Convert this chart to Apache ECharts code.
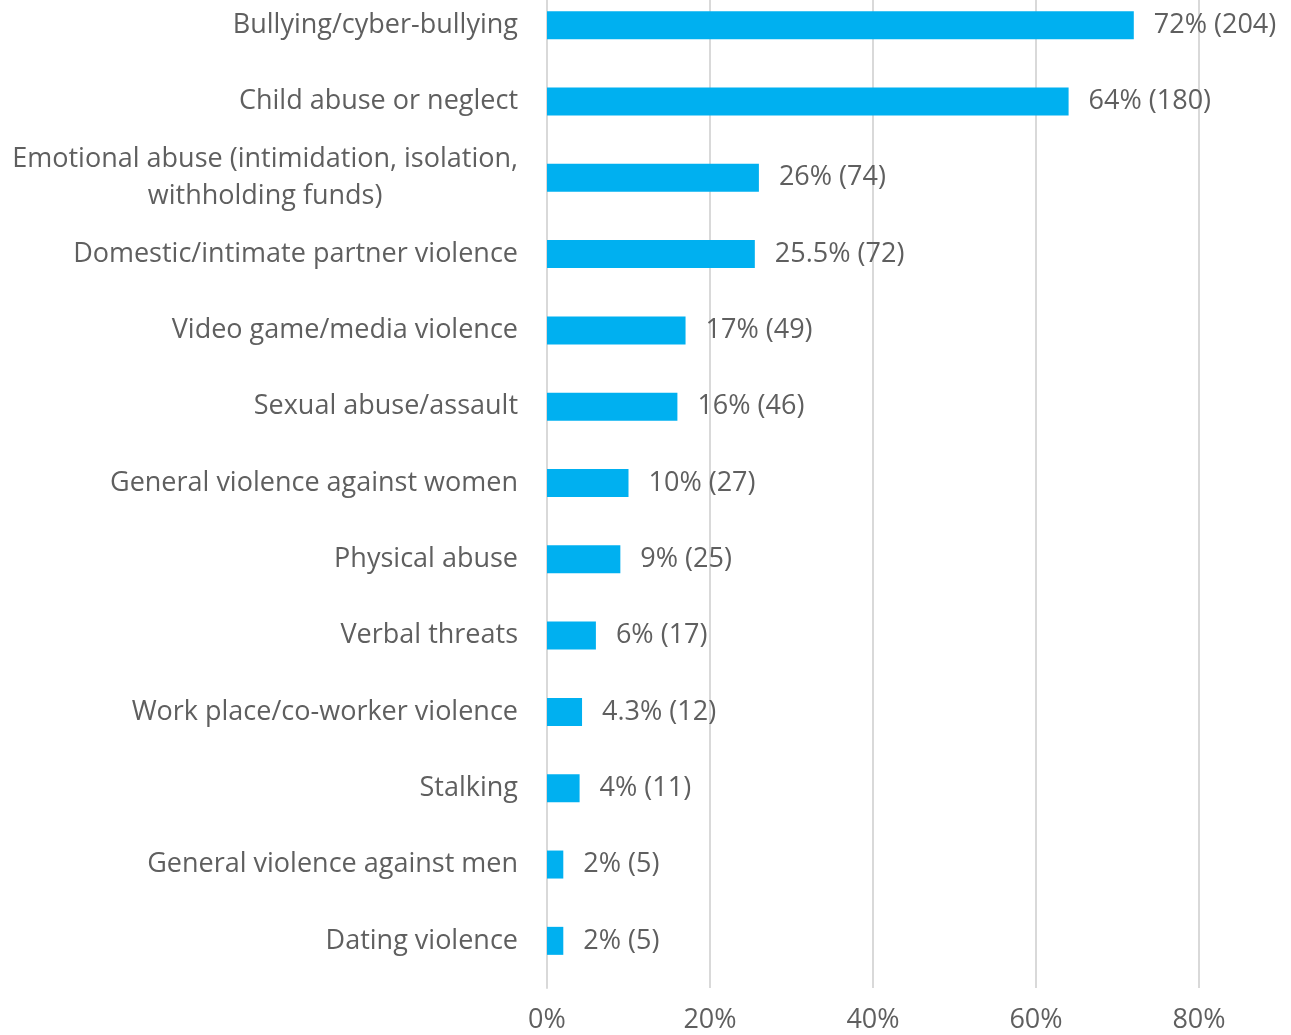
<!DOCTYPE html>
<html>
<head>
<meta charset="utf-8">
<script src="https://cdn.jsdelivr.net/npm/echarts@6/dist/echarts.min.js"></script>
<style>
  html, body { margin: 0; padding: 0; background: #fff; }
  #chart { width: 1291px; height: 1035px; }
</style>
</head>
<body>
<div id="chart"></div>
<script>
// Reported forms of violence, share of respondents with counts
const categories = [
  'Bullying/cyber-bullying',
  'Child abuse or neglect',
  'Emotional abuse (intimidation, isolation,\nwithholding funds)',
  'Domestic/intimate partner violence',
  'Video game/media violence',
  'Sexual abuse/assault',
  'General violence against women',
  'Physical abuse',
  'Verbal threats',
  'Work place/co-worker violence',
  'Stalking',
  'General violence against men',
  'Dating violence'
];
const percents = [72, 64, 26, 25.5, 17, 16, 10, 9, 6, 4.3, 4, 2, 2];
const counts = [204, 180, 74, 72, 49, 46, 27, 25, 17, 12, 11, 5, 5];
const xTicks = [0, 20, 40, 60, 80];

const FONT = '"Open Sans", "Noto Sans", sans-serif';
const TEXT = '#5f5f5f';
const SIZE = 27;

const chart = echarts.init(document.getElementById('chart'), null, { renderer: 'canvas' });

chart.setOption({
  animation: false,
  backgroundColor: '#ffffff',
  grid: [
    // bars and labels
    { left: 547, width: 652, top: -13, height: 992, containLabel: false, outerBoundsMode: 'none' },
    // gridlines, running the full plot height
    { left: 547, width: 652, top: 0, height: 988, containLabel: false, outerBoundsMode: 'none' }
  ],
  xAxis: [{
    gridIndex: 0,
    type: 'value',
    min: xTicks[0],
    max: xTicks[xTicks.length - 1],
    interval: xTicks[1] - xTicks[0],
    axisLine: { show: false },
    axisTick: { show: false },
    splitLine: { show: false },
    axisLabel: { show: false }
  }, {
    gridIndex: 1,
    type: 'value',
    min: xTicks[0],
    max: xTicks[xTicks.length - 1],
    interval: xTicks[1] - xTicks[0],
    axisLine: { show: false },
    axisTick: { show: false },
    splitLine: { show: true, lineStyle: { color: '#d9d9d9', width: 2 } },
    axisLabel: {
      formatter: v => v + '%',
      color: TEXT,
      fontFamily: FONT,
      fontSize: SIZE,
      margin: 19
    }
  }],
  yAxis: [{
    gridIndex: 0,
    type: 'category',
    inverse: true,
    data: categories,
    axisLine: { show: false },
    axisTick: { show: false },
    axisLabel: {
      color: TEXT,
      fontFamily: FONT,
      fontSize: SIZE,
      margin: 29,
      lineHeight: 37,
      formatter: v => v.split('\n').map(s => '{c|' + s + '}').join('\n'),
      rich: {
        c: { align: 'center', color: TEXT, fontFamily: FONT, fontSize: SIZE, lineHeight: 37 }
      }
    }
  }, {
    gridIndex: 1,
    type: 'value',
    min: 0,
    max: 1,
    show: true,
    axisLine: { show: true, onZero: false, lineStyle: { color: '#d9d9d9', width: 2 } },
    axisTick: { show: false },
    axisLabel: { show: false },
    splitLine: { show: false }
  }],
  series: [{
    type: 'bar',
    xAxisIndex: 0,
    yAxisIndex: 0,
    data: percents,
    barWidth: 28,
    z: 3,
    itemStyle: { color: '#00B0F0' },
    label: {
      show: true,
      position: 'right',
      distance: 20,
      color: TEXT,
      fontFamily: FONT,
      fontSize: SIZE,
      formatter: p => percents[p.dataIndex] + '% (' + counts[p.dataIndex] + ')'
    }
  }]
});
</script>
</body>
</html>
